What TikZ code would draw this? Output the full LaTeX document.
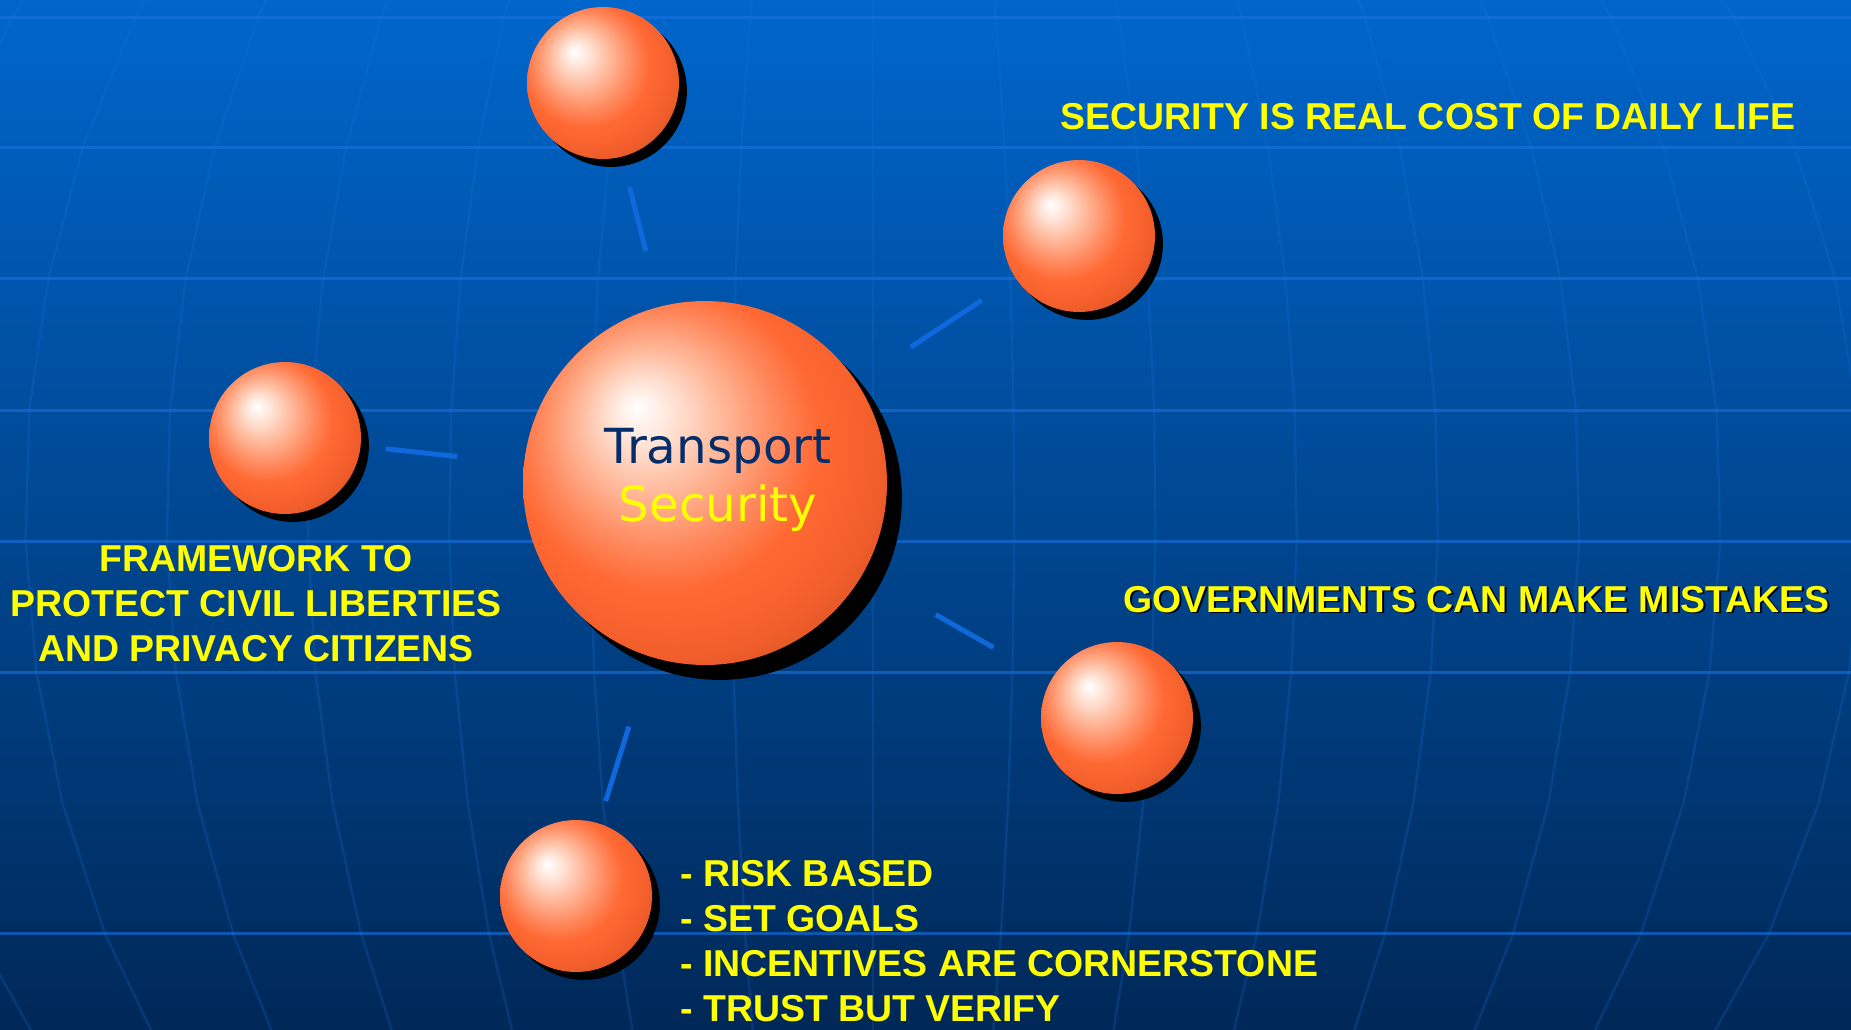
\documentclass[tikz,border=0pt]{standalone}
\usepackage{fontspec}
\setmainfont{Liberation Sans}
\newfontfamily\orbfont{DejaVu Sans}
\usetikzlibrary{calc,shadows}

\definecolor{bgtop}{RGB}{0,102,204}
\definecolor{bgmid}{RGB}{0,74,148}
\definecolor{bgbot}{RGB}{0,40,88}
\definecolor{gridblue}{RGB}{25,115,225}
\definecolor{linkblue}{RGB}{15,105,220}
\definecolor{capyellow}{RGB}{255,255,0}
\definecolor{hubnavy}{RGB}{5,45,105}

\pgfdeclareradialshading{orangeball}{\pgfpoint{-9.5bp}{10.5bp}}{%
	rgb(0bp)=(1,1,1);
	rgb(4bp)=(1,0.9,0.85);
	rgb(10bp)=(1,0.72,0.6);
	rgb(16bp)=(1,0.54,0.37);
	rgb(21bp)=(1,0.41,0.2);
	rgb(28bp)=(0.95,0.37,0.17);
	rgb(35bp)=(0.82,0.31,0.14);
	rgb(40bp)=(0.75,0.29,0.13);
	rgb(50bp)=(0.75,0.29,0.13)}

\newcommand{\shadowtext}[1]{\makebox[0pt][l]{\hspace{1.1pt}\raisebox{-1.1pt}{\color{black}#1}}#1}

\begin{document}
\begin{tikzpicture}[x=0.02cm, y=-0.02cm,
	gridline/.style={draw=gridblue, line width=1.7pt, opacity=0.6},
	meridian/.style={draw=gridblue, line width=1.4pt, opacity=0.22},
	link/.style={draw=linkblue, line width=2.85pt},
	orb/.style={circle, inner sep=0pt, outer sep=0pt, minimum size=3.04cm, shade, shading=orangeball, drop shadow={shadow xshift=4.5pt, shadow yshift=-4.5pt, opacity=1, fill=black}},
	bigorb/.style={circle, inner sep=0pt, outer sep=0pt, minimum size=7.28cm, shade, shading=orangeball, drop shadow={shadow xshift=8.5pt, shadow yshift=-8.5pt, opacity=1, fill=black}},
	caption/.style={text=capyellow, inner sep=0pt, font=\fontsize{21.3}{25.6}\selectfont\bfseries},
	hubtext/.style={inner sep=0pt, align=center, font=\orbfont\fontsize{27.5}{33}\selectfont}]

	\shade[top color=bgtop, middle color=bgmid, bottom color=bgbot] (0,0) rectangle (1851,1029);
	\clip (0,0) rectangle (1851,1029);

	\foreach \y in {17,147,278,410,541,672,933}
		\draw[gridline] (0,\y) -- (1851,\y);

	\foreach \k in {-7,...,7}
		\draw[meridian] plot[samples at={-114,17,...,1065}] ({873+141.3*(\k)*sqrt(1-((\x-510)/1000)^2)}, \x);

	\node[bigorb] (hub) at (705,483) {};
	\node[orb] (sphTop) at (603,83) {};
	\node[orb] (sphCost) at (1079,236) {};
	\node[orb] (sphFrame) at (285,438) {};
	\node[orb] (sphGov) at (1117,718) {};
	\node[orb] (sphGoals) at (576,896) {};

	\foreach \s/\a/\b in {sphTop/0.58/0.74, sphFrame/0.59/0.76, sphCost/0.55/0.74, sphGov/0.56/0.70, sphGoals/0.59/0.77}
		\draw[link] ($(hub)!\a!(\s)$) -- ($(hub)!\b!(\s)$);

	\node[hubtext] (hubLabel) at (718,479.5) {\textcolor{hubnavy}{Transport}\\\textcolor{capyellow}{Security}};

	\node[caption, anchor=base west] (cost) at (1060,129) {SECURITY IS REAL COST OF DAILY LIFE};

	\node[caption, anchor=base west] (gov) at (1123,612) {\shadowtext{GOVERNMENTS CAN MAKE MISTAKES}};

	\node[caption, align=center] (frame) at (256,603.5) {FRAMEWORK TO\\PROTECT CIVIL LIBERTIES\\AND PRIVACY CITIZENS};

	\node[caption, align=left, anchor=north west] (goals) at (680,860) {- RISK BASED\\- SET GOALS\\- INCENTIVES ARE CORNERSTONE\\- TRUST BUT VERIFY};

\end{tikzpicture}
\end{document}
